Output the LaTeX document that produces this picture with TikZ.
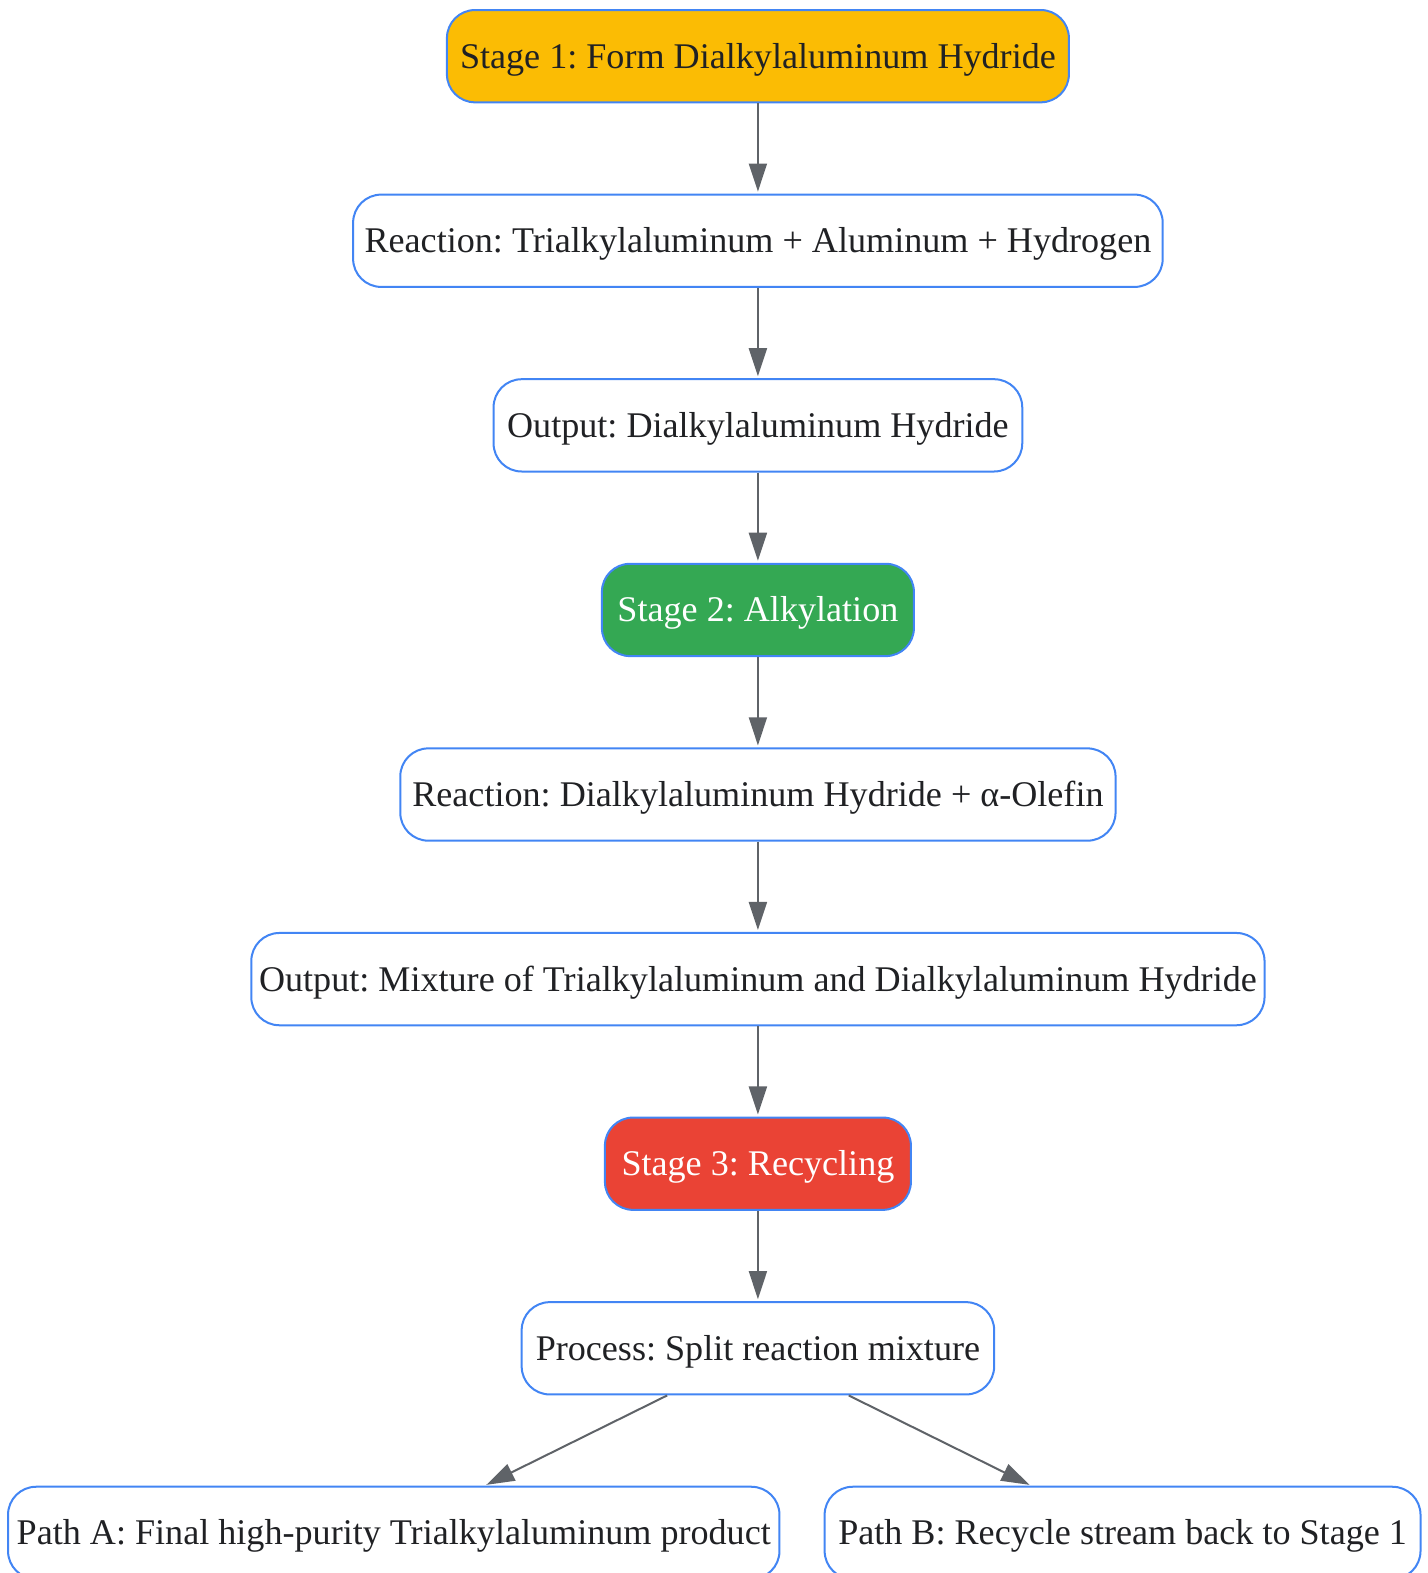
\documentclass[tikz,border=0pt]{standalone}
\usepackage{fontspec}
\setmainfont{Liberation Serif}
\usetikzlibrary{arrows.meta}
\definecolor{bordblue}{HTML}{4285F4}
\definecolor{arrgray}{HTML}{5F6368}
\definecolor{txt}{HTML}{202124}
\definecolor{yel}{HTML}{FBBC04}
\definecolor{grn}{HTML}{34A853}
\definecolor{rd}{HTML}{EA4335}
\tikzset{
  box/.style={draw=bordblue, line width=1pt, rounded corners=14pt, fill=white,
    minimum height=46pt, inner sep=0pt, align=center, text=txt,
    text height=14pt, text depth=2pt,
    font=\fontsize{18}{21}\selectfont\frenchspacing},
  conn/.style={draw=arrgray, line width=1pt, -{Triangle[length=14pt,width=9pt]}, shorten >=1pt}
}
\begin{document}
\begin{tikzpicture}[x=0.5pt,y=-0.5pt]
\useasboundingbox (0,0) rectangle (1423,1568);
\node[box, fill=yel, minimum width=310pt] (s1) at (755.5,56) {Stage 1: Form Dialkylaluminum Hydride};
\node[box, minimum width=403.5pt] (r1) at (755.5,240) {Reaction: Trialkylaluminum + Aluminum + Hydrogen};
\node[box, minimum width=263.5pt] (o1) at (755.5,424) {Output: Dialkylaluminum Hydride};
\node[box, fill=grn, text=white, minimum width=155.5pt] (s2) at (755.5,608) {Stage 2: Alkylation};
\node[box, minimum width=356.5pt] (r2) at (755.5,792) {Reaction: Dialkylaluminum Hydride + α-Olefin};
\node[box, minimum width=505pt] (o2) at (755.5,976) {Output: Mixture of Trialkylaluminum and Dialkylaluminum Hydride};
\node[box, fill=rd, text=white, minimum width=152.5pt] (s3) at (755.5,1160) {Stage 3: Recycling};
\node[box, minimum width=235.5pt] (pr) at (755.5,1344) {Process: Split reaction mixture};
\node[box, minimum width=384.5pt] (pa) at (392.5,1528) {Path A: Final high-purity Trialkylaluminum product};
\node[box, minimum width=297pt] (pb) at (1119,1528) {Path B: Recycle stream back to Stage 1};
\draw[conn] (s1) -- (r1);
\draw[conn] (r1) -- (o1);
\draw[conn] (o1) -- (s2);
\draw[conn] (s2) -- (r2);
\draw[conn] (r2) -- (o2);
\draw[conn] (o2) -- (s3);
\draw[conn] (s3) -- (pr);
\draw[conn] ([xshift=-45.25pt]pr.south) -- ([xshift=45.25pt]pa.north);
\draw[conn] ([xshift=45.25pt]pr.south) -- ([xshift=-45.5pt]pb.north);
\end{tikzpicture}
\end{document}
